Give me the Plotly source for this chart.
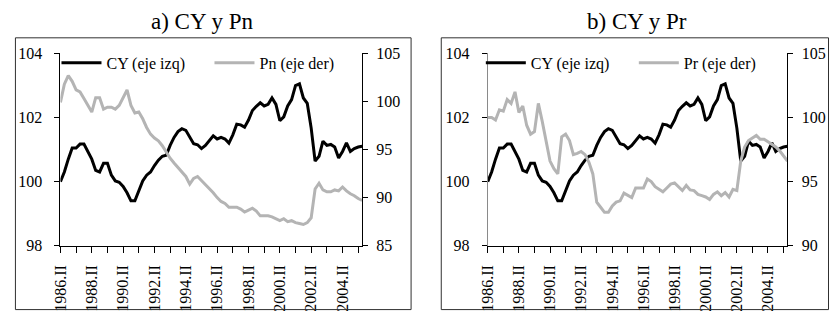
import plotly.graph_objects as go

# Quarterly categories: 1986.II ... 2005.III
ROMAN = ["I", "II", "III", "IV"]
quarters = [f"{1986 + (k + 1) // 4}.{ROMAN[(k + 1) % 4]}" for k in range(78)]

# CY index (left axis, both panels)
cy = [100.00, 100.30, 100.70, 101.05, 101.05, 101.17, 101.17, 100.95, 100.70, 100.35,
      100.30, 100.57, 100.57, 100.20, 100.02, 99.98, 99.85, 99.65, 99.40, 99.40,
      99.70, 100.02, 100.20, 100.30, 100.50, 100.67, 100.79, 100.82, 101.13, 101.38,
      101.56, 101.65, 101.60, 101.38, 101.18, 101.15, 101.03, 101.13, 101.30, 101.43,
      101.33, 101.38, 101.33, 101.20, 101.46, 101.79, 101.77, 101.70, 101.92, 102.22,
      102.35, 102.46, 102.36, 102.41, 102.61, 102.41, 101.90, 102.02, 102.36, 102.56,
      103.00, 103.05, 102.61, 102.44, 101.67, 100.64, 100.79, 101.26, 101.13, 101.16,
      101.08, 100.74, 100.94, 101.21, 100.94, 101.03, 101.08, 101.10]

# Pn index (right axis, panel a)
pn = [99.9, 101.8, 102.7, 102.1, 101.2, 101.0, 100.3, 99.6, 98.9, 100.4,
      100.4, 99.2, 99.4, 99.4, 99.2, 99.6, 100.4, 101.2, 99.6, 98.8,
      98.9, 98.2, 97.3, 96.6, 96.2, 95.9, 95.4, 94.7, 94.1, 93.6,
      93.1, 92.7, 92.2, 91.4, 92.0, 92.2, 91.8, 91.4, 91.0, 90.5,
      90.0, 89.6, 89.4, 89.0, 89.0, 89.0, 88.8, 88.5, 88.7, 88.9,
      88.6, 88.1, 88.1, 88.1, 88.0, 87.8, 87.6, 87.8, 87.5, 87.6,
      87.4, 87.3, 87.2, 87.4, 87.9, 90.9, 91.5, 90.8, 90.6, 90.6,
      90.8, 90.7, 91.1, 90.7, 90.4, 90.2, 89.9, 89.7]

# Pr index (right axis, panel b)
pr = [100.0, 100.0, 99.8, 100.6, 100.5, 101.4, 101.1, 102.0, 100.4, 100.9,
      99.4, 98.7, 98.9, 101.1, 99.7, 98.2, 96.6, 96.0, 95.6, 98.5,
      98.7, 98.2, 97.1, 97.2, 97.35, 97.1, 96.5, 95.6, 93.4, 93.0,
      92.6, 92.6, 93.1, 93.4, 93.5, 94.1, 93.9, 93.75, 94.5, 94.5,
      94.5, 95.2, 95.0, 94.6, 94.4, 94.2, 94.5, 94.8, 94.9, 94.6,
      94.3, 94.7, 94.35, 94.3, 94.0, 93.9, 93.8, 93.6, 94.0, 94.2,
      93.9, 94.15, 93.8, 94.4, 94.3, 96.6, 97.7, 98.2, 98.4, 98.6,
      98.3, 98.3, 98.1, 97.9, 97.7, 97.4, 97.0, 96.6]

titles = ["a) CY y Pn", "b) CY y Pr"]
names_left = ["CY (eje izq)", "CY (eje izq)"]
names_right = ["Pn (eje der)", "Pr (eje der)"]

x = list(range(len(quarters)))
tick_pos = x[::4]
tick_text = [quarters[k] if k % 8 == 0 else "" for k in tick_pos]

W, H = 829, 320


def fx(p):
    return p / W


def fy(p):
    return 1 - p / H


FONT = "Liberation Serif"
BLACK = "#000000"
GRAY = "#b4b4b4"
tfont = dict(family=FONT, size=16, color=BLACK)

fig = go.Figure()

panels = [
    dict(xa="x", ya="y", yb="y2", other=pn, legend="legend"),
    dict(xa="x2", ya="y3", yb="y4", other=pr, legend="legend2"),
]
for i, p in enumerate(panels):
    fig.add_trace(go.Scatter(x=x, y=cy, xaxis=p["xa"], yaxis=p["ya"], mode="lines",
                             line=dict(color=BLACK, width=3), name=names_left[i],
                             legend=p["legend"], hoverinfo="skip"))
    fig.add_trace(go.Scatter(x=x, y=p["other"], xaxis=p["xa"], yaxis=p["yb"], mode="lines",
                             line=dict(color=GRAY, width=3), name=names_right[i],
                             legend=p["legend"], hoverinfo="skip"))

ydom = [fy(251), fy(48)]
xdoms = [[fx(52), fx(357)], [fx(484), fx(787)]]


def xaxis(dom, anchor):
    return dict(domain=dom, anchor=anchor, range=[0, 77], tickmode="array",
                tickvals=tick_pos, ticktext=tick_text, tickangle=-90,
                ticks="outside", ticklen=6, tickcolor=BLACK, tickwidth=1,
                showline=True, linecolor=BLACK, linewidth=1, showgrid=False,
                zeroline=False, tickfont=tfont, ticklabelstandoff=6)


def xinner(over, anchor):
    return dict(overlaying=over, anchor=anchor, range=[0, 77], tickmode="array",
                tickvals=tick_pos, ticks="inside", ticklen=3, tickcolor=BLACK,
                showticklabels=False, showline=False, showgrid=False, zeroline=False)


def yaxis(rng, dtick, side, anchor, over=None, dom=None, linecolor=BLACK, standoff=6):
    d = dict(range=rng, dtick=dtick, tick0=rng[0], side=side, anchor=anchor,
             ticks="outside", ticklen=5, tickcolor=BLACK, tickwidth=1,
             showline=True, linecolor=linecolor, linewidth=1, showgrid=False,
             zeroline=False, tickfont=tfont, ticklabelstandoff=standoff)
    if over:
        d["overlaying"] = over
    if dom:
        d["domain"] = dom
    return d


def yinner(rng, dtick, side, anchor, over):
    return dict(range=rng, dtick=dtick, tick0=rng[0], side=side, anchor=anchor,
                overlaying=over, ticks="inside", ticklen=3, tickcolor=BLACK,
                showticklabels=False, showline=False, showgrid=False, zeroline=False)


layout_axes = dict(
    xaxis=xaxis(xdoms[0], "y"),
    xaxis2=xaxis(xdoms[1], "y3"),
    xaxis3=xinner("x", "y"),
    xaxis4=xinner("x2", "y3"),
    yaxis=yaxis([98, 104], 2, "left", "x", dom=ydom, standoff=9),
    yaxis2=yaxis([85, 105], 5, "right", "x", over="y", standoff=5),
    yaxis3=yaxis([98, 104], 2, "left", "x2", dom=ydom, linecolor="#8a8a8a", standoff=9),
    yaxis4=yaxis([90, 105], 5, "right", "x2", over="y3", standoff=5),
    yaxis5=yinner([98, 104], 2, "left", "x", "y"),
    yaxis6=yinner([85, 105], 5, "right", "x", "y"),
    yaxis7=yinner([98, 104], 2, "left", "x2", "y3"),
    yaxis8=yinner([90, 105], 5, "right", "x2", "y3"),
)


def legend(left):
    return dict(orientation="h", x=fx(left), y=fy(40), xanchor="left", yanchor="top",
                bgcolor="rgba(0,0,0,0)", font=tfont, itemwidth=40,
                entrywidth=98, tracegroupgap=0)


shapes = [
    dict(type="rect", xref="paper", yref="paper", x0=fx(6.5), x1=fx(406.5),
         y0=fy(318.5), y1=fy(31.5), line=dict(color="#303030", width=1)),
    dict(type="rect", xref="paper", yref="paper", x0=fx(437), x1=fx(828.5),
         y0=fy(318.5), y1=fy(31.5), line=dict(color="#303030", width=1)),
]

title_font = dict(family=FONT, size=23, color=BLACK)
annotations = [
    dict(text=titles[0], x=fx(196), y=fy(14), xref="paper", yref="paper",
         showarrow=False, xanchor="center", yanchor="middle", font=title_font),
    dict(text=titles[1], x=fx(635), y=fy(14), xref="paper", yref="paper",
         showarrow=False, xanchor="center", yanchor="middle", font=title_font),
]

fig.update_layout(
    width=W, height=H, autosize=False,
    margin=dict(l=0, r=0, t=0, b=0),
    paper_bgcolor="white", plot_bgcolor="white",
    font=dict(family=FONT),
    showlegend=True,
    legend=legend(48),
    legend2=legend(477),
    shapes=shapes,
    annotations=annotations,
    **layout_axes,
)

fig.write_html("out.html", config={"displayModeBar": False})
